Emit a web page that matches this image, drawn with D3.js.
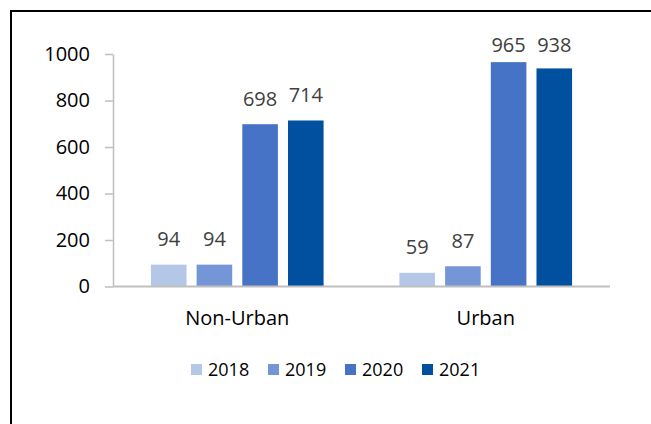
<!DOCTYPE html>
<html>
<head>
<meta charset="utf-8">
<script src="https://cdn.jsdelivr.net/npm/d3@7"></script>
<style>
  body { margin: 0; background: #fff; }
  text { font-family: "Open Sans", "DejaVu Sans", sans-serif; }
</style>
</head>
<body>
<div id="canvas"></div>
<script>
var w = 651;
var h = 424;

// data
var categories = ["Non-Urban", "Urban"];
var years = ["2018", "2019", "2020", "2021"];
var values2018 = [94, 59];
var values2019 = [94, 87];
var values2020 = [698, 965];
var values2021 = [714, 938];
var tickValues = [0, 200, 400, 600, 800, 1000];

var colors = ["#b4c7e7", "#7596d6", "#4673c5", "#01509f"];
var series = [values2018, values2019, values2020, values2021];

var svg = d3.select("#canvas")
    .append("svg")
    .attr("width", w)
    .attr("height", h)
    .style("display", "block");

// frame (top + left only, like the screenshot)
svg.append("line")
    .attr("x1", 10).attr("y1", 11).attr("x2", w).attr("y2", 11)
    .attr("stroke", "black").attr("stroke-width", 2);
svg.append("line")
    .attr("x1", 11).attr("y1", 10).attr("x2", 11).attr("y2", h)
    .attr("stroke", "black").attr("stroke-width", 2);

var plotLeft = 113, plotRight = 610, plotTop = 54, plotBottom = 286.5;

var x0 = d3.scaleBand()
    .domain(categories)
    .range([plotLeft, plotRight]);

var x1 = d3.scaleBand()
    .domain(years)
    .range([0, x0.bandwidth()])
    .paddingInner(0.221)
    .paddingOuter(0.83);

var y = d3.scaleLinear()
    .domain([0, 1000])
    .range([plotBottom, plotTop]);

// y axis
var yAxis = svg.append("g")
    .attr("transform", "translate(" + plotLeft + ",0)")
    .call(d3.axisLeft(y).tickValues(tickValues).tickFormat(d3.format("d"))
        .tickSize(8).tickPadding(15).tickSizeOuter(0));
yAxis.select(".domain").attr("stroke", "#bfbfbf").attr("stroke-width", 1.5);
yAxis.selectAll(".tick line").attr("stroke", "#bfbfbf").attr("stroke-width", 1.5);
yAxis.selectAll(".tick text")
    .attr("fill", "#000")
    .style("font-size", "20px")
    .style("font-family", "'Open Sans', sans-serif");

// bars
var groups = svg.selectAll("g.cat")
    .data(categories)
    .join("g")
    .attr("class", "cat")
    .attr("transform", function(d) { return "translate(" + x0(d) + ",0)"; });

groups.each(function(cat, ci) {
    var g = d3.select(this);
    var rows = years.map(function(yr, si) {
        return { year: yr, value: series[si][ci], color: colors[si] };
    });

    g.selectAll("rect")
        .data(rows)
        .join("rect")
        .attr("x", function(d) { return x1(d.year); })
        .attr("y", function(d) { return y(d.value); })
        .attr("width", x1.bandwidth())
        .attr("height", function(d) { return y(0) - y(d.value); })
        .attr("fill", function(d) { return d.color; });

    g.selectAll("text.val")
        .data(rows)
        .join("text")
        .attr("class", "val")
        .attr("x", function(d) { return x1(d.year) + x1.bandwidth() / 2; })
        .attr("y", function(d) { return Math.max(y(d.value) - 18.5, 51.7); })
        .attr("text-anchor", "middle")
        .attr("fill", "#404040")
        .style("font-size", "20px")
        .text(function(d) { return d.value; });
});

// baseline
svg.append("line")
    .attr("x1", plotLeft).attr("x2", plotRight)
    .attr("y1", y(0)).attr("y2", y(0))
    .attr("stroke", "#bfbfbf").attr("stroke-width", 2);

// category labels
svg.selectAll("text.catlabel")
    .data(categories)
    .join("text")
    .attr("class", "catlabel")
    .attr("x", function(d) { return x0(d) + x0.bandwidth() / 2; })
    .attr("y", 325)
    .attr("text-anchor", "middle")
    .attr("fill", "#000")
    .style("font-size", "20px")
    .text(function(d) { return d; });

// legend
var legend = svg.selectAll("g.leg")
    .data(years)
    .join("g")
    .attr("class", "leg")
    .attr("transform", function(d, i) { return "translate(" + (191 + i * 77) + ",364)"; });

legend.append("rect")
    .attr("width", 11)
    .attr("height", 11)
    .attr("fill", function(d, i) { return colors[i]; });

legend.append("text")
    .attr("x", 17)
    .attr("y", 12)
    .attr("fill", "#000")
    .style("font-size", "18px")
    .text(function(d) { return d; });
</script>
</body>
</html>
